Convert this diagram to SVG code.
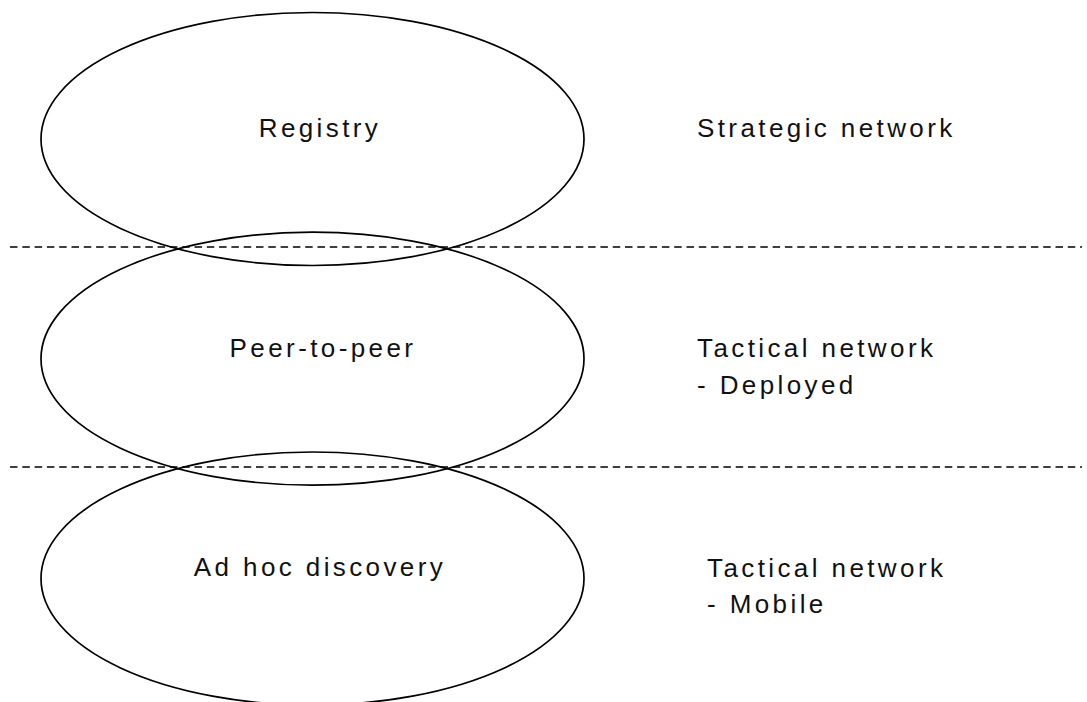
<svg xmlns="http://www.w3.org/2000/svg" width="1087" height="702" viewBox="0 0 1087 702">
<style>
.node ellipse{fill:none;stroke:#000;stroke-width:1.7}
.sep{stroke:#000;stroke-width:1.4;stroke-dasharray:7.5 4.8}
text{font-family:"Liberation Sans",Arial,sans-serif;font-size:26px;fill:#111;letter-spacing:3.4px}
.c{text-anchor:middle}
</style>
<rect width="1087" height="702" fill="#fff"/>
<g id="connectors">
<line class="sep" x1="10" y1="247" x2="1082" y2="247"/>
<line class="sep" x1="10" y1="467" x2="1082" y2="467"/>
</g>
<g id="registry" class="node">
<ellipse cx="312.5" cy="139" rx="271.5" ry="126.5"/>
<text class="c" x="320" y="137">Registry</text>
</g>
<g id="peer" class="node">
<ellipse cx="312.5" cy="358.7" rx="271.5" ry="126.5"/>
<text class="c" x="323" y="357">Peer-to-peer</text>
</g>
<g id="adhoc" class="node">
<ellipse cx="312.5" cy="578.5" rx="271.5" ry="126.5"/>
<text class="c" x="320" y="576">Ad hoc discovery</text>
</g>
<g id="labels">
<text x="697" y="137">Strategic network</text>
<text x="697" y="357">Tactical network</text>
<text x="697" y="394" letter-spacing="2.6">- Deployed</text>
<text x="707" y="577">Tactical network</text>
<text x="707" y="613" letter-spacing="2.6">- Mobile</text>
</g>
</svg>
